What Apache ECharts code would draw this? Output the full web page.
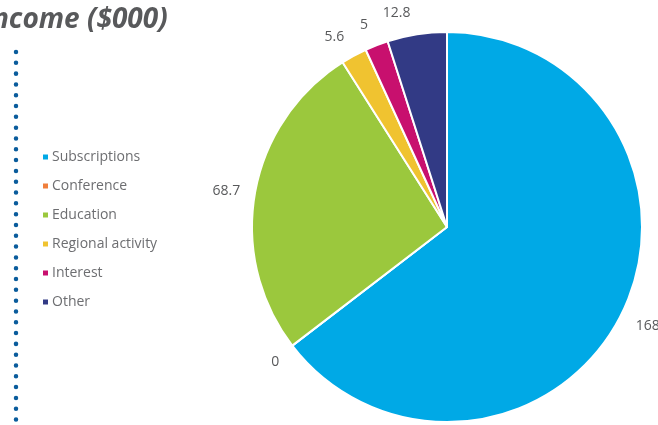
<!DOCTYPE html>
<html><head><meta charset="utf-8">
<script src="https://cdn.jsdelivr.net/npm/echarts@6/dist/echarts.min.js"></script>
<style>html,body{margin:0;padding:0;background:#fff}#c{width:658px;height:425px}</style>
</head><body><div id="c"></div>
<script>
const categories = ['Subscriptions','Conference','Education','Regional activity','Interest','Other'];
const values = [168, 0, 68.7, 5.6, 5, 12.8];
const colors = ['#00A9E6','#F07F3C','#9BC83D','#F0C330','#C8106E','#323A85'];
const titleText = 'Income ($000)';

const CY = 227;
const chart = echarts.init(document.getElementById('c'));
chart.setOption({
  animation: false,
  title: {
    text: titleText, left: -22, top: 1,
    textStyle: {fontFamily: 'Open Sans', fontStyle: 'italic', fontWeight: 'bold', fontSize: 28, color: '#58595b'}
  },
  legend: {
    orient: 'vertical', left: 36, top: 145, itemWidth: 7, itemHeight: 7, itemGap: 15,
    icon: 'rect',
    textStyle: {fontFamily: 'Open Sans', fontSize: 14, color: '#6d6e71', padding: [0,0,0,-2]},
    data: categories
  },
  graphic: [{
    type: 'line', shape: {x1: 16, y1: 52, x2: 16, y2: 440},
    style: {stroke: '#0a5c9c', lineWidth: 4.5, lineCap: 'round', lineDash: [0.01, 10.8]}
  }],
  series: [{
    type: 'pie', center: [447, CY], radius: [0, 195], startAngle: 90, clockwise: true,
    avoidLabelOverlap: false,
    itemStyle: {borderColor: '#fff', borderWidth: 2},
    label: {show: true, position: 'outside', formatter: '{c}', fontFamily: 'Open Sans', fontSize: 14, color: '#58595b'},
    labelLine: {show: false, length: 10, length2: 0},
    labelLayout: function (p) {
      const mid = p.labelRect.y + p.labelRect.height / 2;
      return {dy: (mid - CY) * 0.065 + 2};
    },
    data: categories.map((n, i) => ({name: n, value: values[i], itemStyle: {color: colors[i]}}))
  }]
});
</script></body></html>
